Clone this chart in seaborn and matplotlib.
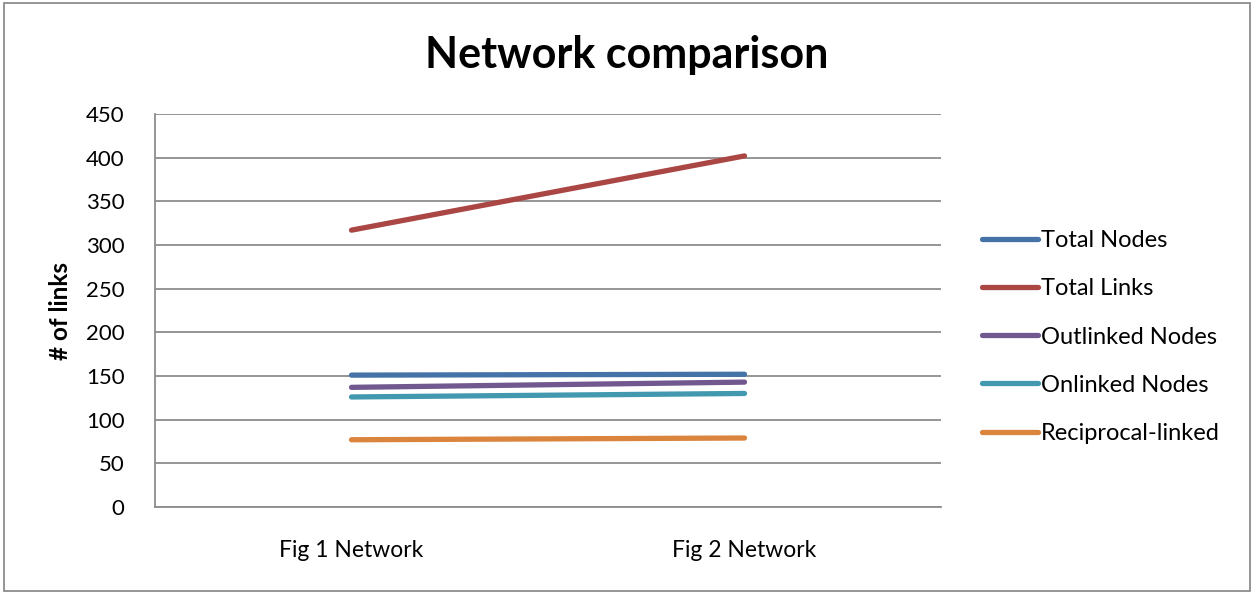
import matplotlib
matplotlib.use("Agg")
import matplotlib.pyplot as plt
import seaborn as sns
import pandas as pd
from matplotlib.patches import Rectangle

categories = ["Fig 1 Network", "Fig 2 Network"]
series_names = ["Total Nodes", "Total Links", "Outlinked Nodes", "Onlinked Nodes", "Reciprocal-linked"]
total_nodes = [151, 152]
total_links = [317, 402]
outlinked_nodes = [137, 143]
onlinked_nodes = [126, 130]
reciprocal_linked = [77, 79]
yticks = [0, 50, 100, 150, 200, 250, 300, 350, 400, 450]
colors = ["#4572A7", "#AA4643", "#71588F", "#4198AF", "#DB843D"]

values = [total_nodes, total_links, outlinked_nodes, onlinked_nodes, reciprocal_linked]
rows = []
for name, vals in zip(series_names, values):
    for i, v in enumerate(vals):
        rows.append({"x": i, "value": v, "series": name})
df = pd.DataFrame(rows)

sns.set_theme(style="white")
plt.rcParams["font.family"] = ["Lato", "DejaVu Sans"]
plt.rcParams["text.color"] = "black"
plt.rcParams["xtick.color"] = "black"
plt.rcParams["ytick.color"] = "black"
plt.rcParams["axes.labelcolor"] = "black"

fig = plt.figure(figsize=(12.54, 5.94), dpi=100)
ax = fig.add_axes([155 / 1254, (594 - 507) / 594, (941 - 155) / 1254, (507 - 114) / 594])

sns.lineplot(data=df, x="x", y="value", hue="series", hue_order=series_names,
             palette=colors, linewidth=3.8, ax=ax, legend=True,
             solid_capstyle="round")

ax.set_xlim(-0.5, 1.5)
ax.set_ylim(0, 450)
ax.set_yticks(yticks)
ax.set_yticklabels([str(t) for t in yticks], fontsize=16)
ax.set_xticks([0, 1])
ax.set_xticklabels(categories, fontsize=16.5)
ax.tick_params(axis="y", length=0, pad=22)
ax.tick_params(axis="x", length=0, pad=24)
ax.yaxis.grid(True, color="#8c8c8c", linewidth=1.3)
ax.set_axisbelow(True)
for s in ["top", "right"]:
    ax.spines[s].set_visible(False)
for s in ["left", "bottom"]:
    ax.spines[s].set_color("#8c8c8c")
    ax.spines[s].set_linewidth(1.3)
ax.set_xlabel("")
ax.set_ylabel("# of links", fontsize=17.5, fontweight="bold", labelpad=10)

handles, labels = ax.get_legend_handles_labels()
ax.legend(handles, labels, loc="center left", bbox_to_anchor=(961 / 1254, 1 - 337 / 594),
          bbox_transform=fig.transFigure, frameon=False, fontsize=17,
          handlelength=2.35, handletextpad=0.15, labelspacing=1.15)

fig.text(0.5, 1 - 55 / 594, "Network comparison", ha="center", va="center",
         fontsize=31, fontweight="bold")

fig.patches.append(Rectangle((4 / 1254, 3 / 594), 1246 / 1254, 588 / 594,
                             transform=fig.transFigure, fill=False,
                             edgecolor="#8c8c8c", linewidth=1.3))

fig.savefig("out.png", dpi=100)
